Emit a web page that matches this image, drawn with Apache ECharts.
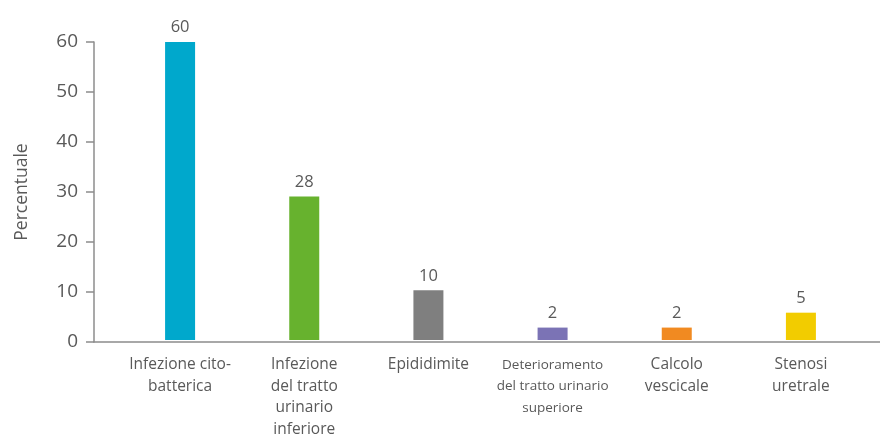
<!DOCTYPE html>
<html><head><meta charset="utf-8">
<script src="https://cdn.jsdelivr.net/npm/echarts@6/dist/echarts.min.js"></script>
<style>html,body{margin:0;padding:0;background:#fff}#c{width:880px;height:440px}</style>
</head><body><div id="c"></div>
<script>
const categories = ["Infezione cito-\nbatterica", "Infezione\ndel tratto\nurinario\ninferiore", "Epididimite", "Deterioramento\ndel tratto urinario\nsuperiore", "Calcolo\nvescicale", "Stenosi\nuretrale"];
const values = [60, 28.9, 10, 2.5, 2.5, 5.5];
const valueLabels = ["60", "28", "10", "2", "2", "5"];
const barColors = ["#00A8CC", "#67B22E", "#7F7F7F", "#7B73B5", "#F18A21", "#F2CC00"];
const yTicks = [0, 10, 20, 30, 40, 50, 60];
const yTitle = "Percentuale";

const font = "'Open Sans', 'Noto Sans', sans-serif";
const txt = "#595959";
const chart = echarts.init(document.getElementById('c'));
chart.setOption({
  animation: false,
  grid: [
    {left: 118, right: 17, top: 42, bottom: 98},
    {left: 94, right: 0, top: 42, bottom: 98}
  ],
  xAxis: [
    {gridIndex: 0, type: 'category', data: categories,
     axisLine: {show: false}, axisTick: {show: false},
     axisLabel: {interval: 0, margin: 14, color: txt, fontFamily: font, fontSize: 15.5, lineHeight: 21.5,
       formatter: function (v) { return v.indexOf('Deterioramento') === 0 ? '{n|' + v.split('\n').join('}\n{n|') + '}' : v; },
       rich: {n: {fontSize: 13.5, fontFamily: font, color: txt, lineHeight: 21.5}}}},
    {gridIndex: 1, type: 'value', min: 0, max: 1, show: true,
     axisLine: {show: true, lineStyle: {color: '#8c8c8c', width: 1.5}},
     axisTick: {show: false}, axisLabel: {show: false}, splitLine: {show: false}}
  ],
  yAxis: [
    {gridIndex: 0, type: 'value', min: 0, max: 60, show: false},
    {gridIndex: 1, type: 'value', min: yTicks[0], max: yTicks[yTicks.length - 1], interval: 10,
     name: yTitle, nameLocation: 'middle', nameGap: 63, nameRotate: 90,
     nameTextStyle: {color: txt, fontFamily: font, fontSize: 17.5},
     axisLine: {show: true, lineStyle: {color: '#8c8c8c', width: 1.5}},
     axisTick: {show: true, length: 8, lineStyle: {color: '#8c8c8c', width: 1.5}},
     axisLabel: {color: txt, fontFamily: font, fontSize: 19, margin: 16},
     splitLine: {show: false}}
  ],
  series: [{
    type: 'bar', xAxisIndex: 0, yAxisIndex: 0, barWidth: 30,
    data: values.map((v, i) => ({value: v, itemStyle: {color: barColors[i]}})),
    label: {show: true, position: 'top', distance: 6, color: txt, fontFamily: font, fontSize: 16.5,
      formatter: p => valueLabels[p.dataIndex]}
  }]
});
</script></body></html>
